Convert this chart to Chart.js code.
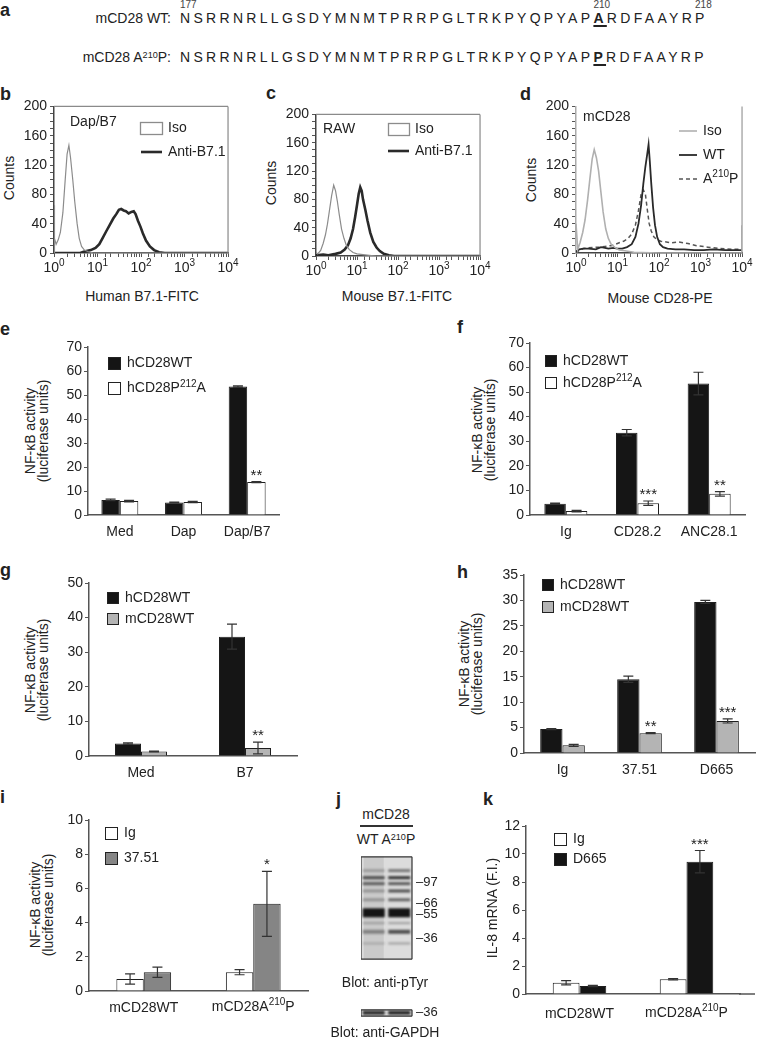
<!DOCTYPE html>
<html>
<head>
<meta charset="utf-8">
<script src="https://cdn.jsdelivr.net/npm/chart.js@4.4.1/dist/chart.umd.min.js"></script>
<style>
  body { margin: 0; background: #fff; }
  #fig { position: relative; width: 757px; height: 1037px; overflow: hidden; color: #222;
         font-family: 'Liberation Sans', 'DejaVu Sans', Arial, sans-serif; }
  canvas { position: absolute; }
  .lt { position: absolute; font-weight: bold; font-size: 18px; line-height: 18px; }
  .ct { position: absolute; transform: translate(-50%, -50%); font-size: 14px; line-height: 14px; white-space: nowrap; }
  .vt { position: absolute; transform: translate(-50%, -50%) rotate(-90deg); font-size: 14px; line-height: 13px;
        text-align: center; white-space: nowrap; }
  .lab { position: absolute; width: 171px; text-align: right; font-size: 14px; line-height: 16px; white-space: nowrap; }
  .seq { position: absolute; font-size: 14px; line-height: 16px; letter-spacing: 3.3px; white-space: nowrap; }
  .seq span { position: relative; }
  .seq .mut { font-weight: bold; text-decoration: underline; text-decoration-thickness: 2px; text-underline-offset: 2px; }
  .seq .num { position: absolute; left: 0; top: -10px; font-size: 10px; line-height: 10px; letter-spacing: 0; font-weight: normal; color: #444; }
  sup { font-size: 0.65em; line-height: 0; vertical-align: 0.45em; }
</style>
</head>
<body>
<div id="fig"></div>
<script>
// ---- panel a: sequences ----
const seqWT  = 'NSRRNRLLGSDYMNMTPRRPGLTRKPYQPYAPARDFAAYRP';
const seqMut = 'NSRRNRLLGSDYMNMTPRRPGLTRKPYQPYAPPRDFAAYRP';
const seqNums = { 0: '177', 32: '210', 40: '218' };
const mutAt = 32;

// ---- panel b: Dap/B7, human B7.1-FITC ----
const bIsoX  = [1, 1.001, 1.05, 1.12, 1.25, 1.4, 1.6, 1.8, 2.0, 2.2, 2.4, 2.7, 3.0, 3.4, 3.8, 4.3, 5, 6, 8, 10, 100, 10000];
const bIsoY  = [0, 65, 20, 12, 18, 28, 55, 98, 135, 147, 130, 100, 70, 40, 20, 9, 4, 2, 0, 0, 0, 0];
const bAntiX = [1, 4, 5, 7, 9, 11, 13, 16, 19, 23, 27, 31, 35, 40, 45, 52, 60, 68, 75, 85, 97, 110, 130, 160, 200, 260, 350, 10000];
const bAntiY = [0, 0, 2, 4, 7, 12, 20, 30, 38, 47, 53, 59, 60, 58, 57, 54, 56, 57, 53, 44, 36, 27, 17, 9, 4, 1, 0, 0];

// ---- panel c: RAW, mouse B7.1-FITC ----
const cIsoX  = [1, 1.1, 1.3, 1.5, 1.7, 1.9, 2.1, 2.4, 2.7, 3.0, 3.3, 3.7, 4.2, 4.8, 5.5, 6.5, 8, 10, 14, 20, 30, 10000];
const cIsoY  = [5, 3, 8, 18, 30, 45, 62, 85, 100, 92, 78, 58, 38, 25, 15, 9, 5, 3, 2, 1, 0, 0];
const cAntiX = [1, 1.5, 2, 3, 4, 5, 6, 7, 8, 9, 10, 11, 12, 13, 14, 16, 18, 21, 25, 30, 36, 45, 60, 80, 100, 10000];
const cAntiY = [1, 2, 1, 3, 5, 9, 15, 25, 38, 55, 72, 88, 97, 92, 80, 65, 50, 33, 20, 12, 7, 3, 1, 0, 0, 0];

// ---- panel d: mCD28, mouse CD28-PE ----
const dIsoX = [1, 1.1, 1.25, 1.45, 1.65, 1.9, 2.15, 2.45, 2.75, 3.1, 3.5, 4.0, 4.5, 5.2, 6, 7, 8.5, 11, 15, 25, 100, 1000, 9000, 9990, 10000];
const dIsoY = [40, 5, 14, 28, 45, 72, 100, 128, 141, 130, 112, 82, 56, 33, 20, 12, 8, 4, 3, 1, 0, 0, 0, 0, 38];
const dWTX  = [1, 1.2, 1.5, 2, 3, 4, 5, 6, 8, 10, 13, 17, 22, 27, 32, 37, 42, 47, 52, 56, 60, 65, 72, 80, 90, 105, 125, 160, 250, 400, 700, 1200, 2000, 4000, 10000];
const dWTY  = [2, 5, 6, 6, 5, 8, 7, 6, 7, 6, 6, 8, 12, 22, 40, 65, 95, 118, 135, 148, 125, 95, 62, 38, 22, 12, 8, 6, 5, 5, 4, 4, 5, 4, 4];
const dMutX = [1, 1.2, 1.5, 2, 3, 4, 5, 7, 9, 11, 14, 18, 22, 27, 32, 37, 42, 47, 52, 58, 65, 75, 90, 110, 150, 200, 300, 500, 800, 1500, 3000, 6000, 10000];
const dMutY = [0, 4, 6, 7, 8, 8, 9, 10, 12, 14, 16, 20, 26, 38, 58, 80, 86, 80, 60, 40, 30, 22, 18, 16, 15, 14, 15, 13, 10, 8, 6, 5, 5];

// ---- panel e ----
const eCats = ['Med', 'Dap', 'Dap/B7'];
const eWT = [6.3, 5.2, 53.5],   eWTErr = [0.3, 0.2, 0.3];
const eP212A = [5.8, 5.4, 13.7], eP212AErr = [0.3, 0.3, 0.2];
const eStars = ['', '', '**'];

// ---- panel f ----
const fCats = ['Ig', 'CD28.2', 'ANC28.1'];
const fWT = [4.6, 33.5, 53.5],  fWTErr = [0.2, 1.3, 4.6];
const fP212A = [1.6, 4.8, 8.6], fP212AErr = [0.3, 0.9, 0.9];
const fStars = ['', '***', '**'];

// ---- panel g ----
const gCats = ['Med', 'B7'];
const gHum = [3.6, 34.5], gHumErr = [0.2, 3.6];
const gMou = [1.3, 2.3],  gMouErr = [0.1, 1.7];
const gStars = ['', '**'];

// ---- panel h ----
const hCats = ['Ig', '37.51', 'D665'];
const hHum = [4.7, 14.5, 29.7], hHumErr = [0.1, 0.6, 0.3];
const hMou = [1.5, 3.9, 6.3],   hMouErr = [0.2, 0.1, 0.4];
const hStars = ['', '**', '***'];

// ---- panel i ----  (^ marks a superscript)
const iCats = ['mCD28WT', 'mCD28A^210P'];
const iIg = [0.7, 1.1],    iIgErr = [0.3, 0.15];
const i3751 = [1.1, 5.1],  i3751Err = [0.3, 1.9];
const iStars = ['', '*'];

// ---- panel j: blot bands (kDa, relative intensity) ----
const blotLanes = ['WT', 'A210P'];
const bandKDa   = [119, 105, 94.5, 83, 71, 56.4, 47, 40.3, 32.8];
const bandWT    = [0.25, 0.7, 0.6, 0.3, 0.3, 1.0, 0.25, 0.4, 0.2];
const bandMut   = [0.5, 0.85, 0.65, 0.7, 0.6, 1.0, 0.3, 0.7, 0.3];
const bandSize  = [3, 3, 3, 3, 3, 9, 2, 4, 2];
const markerKDa = [97, 66, 55, 36];
const gapdhKDa = [36], gapdhWT = [0.85], gapdhMut = [0.9], gapdhMarker = [36];

// ---- panel k ----
const kCats = ['mCD28WT', 'mCD28A^210P'];
const kIg = [0.8, 1.05],    kIgErr = [0.15, 0.05];
const kD665 = [0.57, 9.45], kD665Err = [0.05, 0.8];
const kStars = ['', '***'];

// ------------------------------------------------------------
const FONT = "'Liberation Sans', 'DejaVu Sans', Arial, sans-serif";
Chart.defaults.font.family = FONT;
Chart.defaults.font.size = 14;
Chart.defaults.color = '#222';
const fig = document.getElementById('fig');
const CLEAR = 'rgba(0,0,0,0)';

function put(html, x, y, cls) {
  const d = document.createElement('div');
  d.className = cls;
  d.innerHTML = html;
  d.style.left = x + 'px';
  d.style.top = y + 'px';
  fig.appendChild(d);
  return d;
}

function mkCanvas(box) {
  const c = document.createElement('canvas');
  c.width = box[2];
  c.height = box[3];
  c.style.left = box[0] + 'px';
  c.style.top = box[1] + 'px';
  c.style.width = box[2] + 'px';
  c.style.height = box[3] + 'px';
  fig.appendChild(c);
  return c;
}

// text with "^123" superscripts, vertically centred on y
function drawRich(ctx, str, x, y, size, align) {
  const segs = String(str).split(/\^(\d+)/);
  const big = size + 'px ' + FONT, small = Math.round(size * 0.68) + 'px ' + FONT;
  let w = 0;
  segs.forEach((s, i) => { ctx.font = i % 2 ? small : big; w += ctx.measureText(s).width; });
  let cx = align === 'center' ? x - w / 2 : (align === 'right' ? x - w : x);
  ctx.textAlign = 'left';
  ctx.textBaseline = 'middle';
  ctx.fillStyle = '#222';
  segs.forEach((s, i) => {
    ctx.font = i % 2 ? small : big;
    ctx.fillText(s, cx, i % 2 ? y - size * 0.33 : y);
    cx += ctx.measureText(s).width;
  });
}
const hasSup = c => String(c.tick && c.tick.label).includes('^');

// error bars, stars, frames, legends, rich tick labels
const extras = {
  id: 'extras',
  beforeDatasetsDraw(chart, args, o) {
    const ctx = chart.ctx, a = chart.chartArea;
    if (o.bg) {
      ctx.save();
      ctx.fillStyle = o.bg;
      ctx.fillRect(a.left, a.top, a.right - a.left, a.bottom - a.top);
      const xs = chart.scales.x;
      ctx.fillStyle = 'rgba(0,0,0,0.08)';
      xs.ticks.forEach((t, i) => {
        const x = xs.getPixelForTick(i);
        ctx.fillRect(x - 10, a.top, 20, a.bottom - a.top);
      });
      ctx.restore();
    }
    if (o.blur) {
      ctx.save();
      ctx.filter = 'blur(' + o.blur + 'px)';
    }
  },
  afterDatasetsDraw(chart, args, o) {
    const ctx = chart.ctx;
    if (o.blur) ctx.restore();
    ctx.save();
    chart.data.datasets.forEach((ds, i) => {
      if (!ds.errors) return;
      const ys = chart.scales.y;
      chart.getDatasetMeta(i).data.forEach((bar, j) => {
        const v = ds.data[j], e = ds.errors[j] || 0;
        const top = ys.getPixelForValue(v + e);
        if (e > 0) {
          const bot = ys.getPixelForValue(Math.max(0, v - e));
          ctx.strokeStyle = '#333';
          ctx.lineWidth = 1.2;
          ctx.beginPath();
          ctx.moveTo(bar.x, top); ctx.lineTo(bar.x, bot);
          ctx.moveTo(bar.x - 5, top); ctx.lineTo(bar.x + 5, top);
          ctx.moveTo(bar.x - 5, bot); ctx.lineTo(bar.x + 5, bot);
          ctx.stroke();
        }
        if (ds.stars && ds.stars[j]) {
          ctx.fillStyle = '#222';
          ctx.font = '15px ' + FONT;
          ctx.textAlign = 'center';
          ctx.textBaseline = 'alphabetic';
          ctx.fillText(ds.stars[j], bar.x, top - 2);
        }
      });
    });
    ctx.restore();
  },
  afterDraw(chart, args, o) {
    const ctx = chart.ctx, a = chart.chartArea;
    ctx.save();
    if (o.frame) {
      ctx.strokeStyle = o.frame.color;
      ctx.lineWidth = o.frame.width;
      ctx.beginPath();
      if (o.frame.sides.includes('top')) { ctx.moveTo(a.left, a.top); ctx.lineTo(a.right, a.top); }
      if (o.frame.sides.includes('right')) { ctx.moveTo(a.right, a.top); ctx.lineTo(a.right, a.bottom); }
      if (o.frame.sides.includes('left')) { ctx.moveTo(a.left, a.top); ctx.lineTo(a.left, a.bottom); }
      if (o.frame.sides.includes('bottom')) { ctx.moveTo(a.left, a.bottom); ctx.lineTo(a.right, a.bottom); }
      ctx.stroke();
    }
    if (o.extendX) {
      ctx.strokeStyle = '#555';
      ctx.lineWidth = 1.5;
      ctx.beginPath();
      ctx.moveTo(a.right - 1, a.bottom);
      ctx.lineTo(a.right + o.extendX, a.bottom);
      ctx.stroke();
    }
    if (o.richX) {
      const xs = chart.scales.x;
      xs.ticks.forEach((t, i) => {
        if (typeof t.label === 'string' && t.label.includes('^')) {
          drawRich(ctx, t.label, xs.getPixelForTick(i), a.bottom + o.richX, 14, 'center');
        }
      });
    }
    (o.items || []).forEach(it => {
      ctx.setLineDash([]);
      if (it.type === 'sq') {
        ctx.fillStyle = it.fill;
        ctx.fillRect(it.x, it.y, it.w, it.h);
        ctx.strokeStyle = '#222';
        ctx.lineWidth = 1;
        ctx.strokeRect(it.x + 0.5, it.y + 0.5, it.w - 1, it.h - 1);
      } else if (it.type === 'rect') {
        ctx.strokeStyle = it.color;
        ctx.lineWidth = 1.3;
        ctx.strokeRect(it.x + 0.5, it.y + 0.5, it.w, it.h);
      } else if (it.type === 'line') {
        ctx.strokeStyle = it.color;
        ctx.lineWidth = it.lw;
        ctx.setLineDash(it.dash || []);
        ctx.beginPath();
        ctx.moveTo(it.x, it.y);
        ctx.lineTo(it.x + it.w, it.y);
        ctx.stroke();
      } else if (it.type === 'text') {
        drawRich(ctx, it.label, it.x, it.y, 14, 'left');
      }
    });
    ctx.restore();
  }
};
Chart.register(extras);

// bar chart panel: box = canvas [l,t,w,h], area = plot [l,t,r,b] (page px)
function barPanel(p) {
  const [bl, bt, bw, bh] = p.box;
  const [al, at, ar, ab] = p.area;
  const c = mkCanvas(p.box);
  const xpad = p.xpad || 9;
  const items = [];
  p.sets.forEach((s, i) => {
    const y = p.leg[1] + i * p.leg[3] - bt;
    items.push({ type: 'sq', x: p.leg[0] - bl, y: y, w: p.leg[2], h: p.leg[2], fill: s.fill });
    items.push({ type: 'text', x: p.leg[0] - bl + p.leg[2] + 6, y: y + p.leg[2] / 2, label: s.label });
  });
  new Chart(c, {
    type: 'bar',
    data: {
      labels: p.cats,
      datasets: p.sets.map(s => ({
        label: s.label, data: s.data, errors: s.err, stars: s.stars,
        backgroundColor: s.fill, borderColor: '#1e1e1e', borderWidth: 1,
        categoryPercentage: p.pct, barPercentage: 1
      }))
    },
    options: {
      responsive: false, animation: false, devicePixelRatio: 1,
      layout: { autoPadding: false, padding: { top: at - bt, right: bl + bw - ar, left: 0, bottom: 0 } },
      plugins: { legend: { display: false }, tooltip: { enabled: false },
                 extras: { items: items, extendX: p.extendX, richX: xpad + 7 } },
      scales: {
        x: {
          afterFit(s) { s.height = bt + bh - ab; },
          grid: { display: true, drawOnChartArea: false, drawTicks: false },
          border: { color: '#555', width: 1.5 },
          ticks: { padding: xpad, maxRotation: 0, autoSkip: false, font: { size: 14 },
                   color: c => (hasSup(c) ? CLEAR : '#222') }
        },
        y: {
          min: 0, max: p.ymax,
          afterFit(s) { s.width = al - bl; },
          ticks: { stepSize: p.step, padding: 2, font: { size: 14 } },
          grid: { drawOnChartArea: false, tickLength: 4, color: '#555' },
          border: { color: '#555', width: 1.5 }
        }
      }
    }
  });
}

// flow histogram panel with log x-axis
const powLabels = { 1: '10^0', 10: '10^1', 100: '10^2', 1000: '10^3', 10000: '10^4' };
function histPanel(p) {
  const [bl, bt, bw, bh] = p.box;
  const [al, at, ar, ab] = p.area;
  const c = mkCanvas(p.box);
  const items = [];
  p.sets.forEach(s => {
    const L = s.leg;
    if (s.legType === 'rect') items.push({ type: 'rect', x: L[0] - bl, y: L[1] - bt - 6, w: L[2], h: 12, color: s.color });
    else items.push({ type: 'line', x: L[0] - bl, y: L[1] - bt, w: L[2], color: s.color, lw: s.width, dash: s.dash });
    items.push({ type: 'text', x: L[0] - bl + L[2] + 6, y: L[1] - bt, label: s.label });
  });
  items.push({ type: 'text', x: p.note[1] - bl, y: p.note[2] - bt, label: p.note[0] });
  new Chart(c, {
    type: 'line',
    data: {
      datasets: p.sets.map(s => ({
        label: s.label, data: s.x.map((v, i) => ({ x: v, y: s.y[i] })),
        borderColor: s.color, borderWidth: s.width, borderDash: s.dash || [],
        pointRadius: 0, fill: false, tension: 0
      }))
    },
    options: {
      responsive: false, animation: false, devicePixelRatio: 1,
      layout: { autoPadding: false, padding: { top: at - bt, right: bl + bw - ar, left: 0, bottom: 0 } },
      plugins: { legend: { display: false }, tooltip: { enabled: false },
                 extras: { items: items, frame: p.frame, richX: 15 } },
      scales: {
        x: {
          type: 'logarithmic', min: 1, max: 10000,
          afterFit(s) { s.height = bt + bh - ab; },
          grid: { drawOnChartArea: false, tickLength: 4, color: '#555' },
          border: { color: '#444', width: 1.5 },
          ticks: { autoSkip: false, maxRotation: 0, padding: 3, font: { size: 14 }, color: CLEAR,
                   callback: v => powLabels[v] || '' }
        },
        y: {
          min: 0, max: 200,
          afterFit(s) { s.width = al - bl; },
          grid: { drawOnChartArea: false, tickLength: 4, color: '#555' },
          border: p.yBorder || { color: '#444', width: 1.5 },
          ticks: { stepSize: 10, autoSkip: false, padding: 3, font: { size: 14 },
                   callback: v => (v % 40 === 0 ? v : '') }
        }
      }
    }
  });
}

// western blot strip drawn on lane (category) x log-kDa y axis
function blotPanel(p) {
  const [bl, bt, bw, bh] = p.box;
  const [al, at, ar, ab] = p.area;
  const c = mkCanvas(p.box);
  new Chart(c, {
    type: 'line',
    data: {
      labels: blotLanes,
      datasets: p.lanes.map((inten, k) => ({
        data: p.kda.map(v => ({ x: blotLanes[k], y: v })),
        showLine: false, pointStyle: 'line', pointRadius: 11,
        pointBorderWidth: p.size,
        pointBorderColor: inten.map(v => 'rgba(20,20,20,' + v + ')')
      }))
    },
    options: {
      responsive: false, animation: false, devicePixelRatio: 1,
      layout: { autoPadding: false, padding: { top: at - bt, bottom: bt + bh - ab, left: al - bl, right: 0 } },
      plugins: { legend: { display: false }, tooltip: { enabled: false },
                 extras: { bg: '#dcdcdc', blur: 0.8, frame: { color: '#333', width: 1.2, sides: ['top', 'right', 'left', 'bottom'] } } },
      scales: {
        x: { type: 'category', offset: true, display: false },
        y: {
          type: 'logarithmic', position: 'right', min: p.ymin, max: p.ymax,
          afterFit(s) { s.width = bl + bw - ar; },
          afterBuildTicks(s) { s.ticks = p.markers.map(v => ({ value: v })); },
          grid: { display: true, drawOnChartArea: false, drawTicks: false }, border: { display: false },
          ticks: { autoSkip: false, padding: 4, font: { size: 13 }, callback: v => '–' + v }
        }
      }
    }
  });
}

// ---- panel letters ----
[['a', 0, 1], ['b', 0, 85], ['c', 266, 84], ['d', 520, 85], ['e', 0, 320], ['f', 457, 318],
 ['g', 0, 561], ['h', 457, 563], ['i', 0, 788], ['j', 336, 790], ['k', 483, 790]]
  .forEach(l => put(l[0], l[1], l[2], 'lt'));

// ---- panel a ----
function seqRow(seq, top, nums) {
  const row = put('', 180, top, 'seq');
  [...seq].forEach((ch, i) => {
    const s = document.createElement('span');
    s.textContent = ch;
    if (i === mutAt) s.className = 'mut';
    if (nums && nums[i]) {
      const n = document.createElement('span');
      n.className = 'num';
      n.textContent = nums[i];
      s.appendChild(n);
    }
    row.appendChild(s);
  });
}
put('mCD28 WT:', 0, 10, 'lab');
put('mCD28 A<sup>210</sup>P:', 0, 49, 'lab');
seqRow(seqWT, 10, seqNums);
seqRow(seqMut, 49, null);

// ---- panels b, c, d ----
histPanel({
  box: [20, 95, 226, 190], area: [54, 105, 231, 253],
  frame: { color: '#8a8a8a', width: 1.2, sides: ['top', 'right'] },
  note: ['Dap/B7', 70, 122],
  sets: [
    { label: 'Iso', x: bIsoX, y: bIsoY, color: '#8c8c8c', width: 1.2, legType: 'rect', leg: [140, 128, 22] },
    { label: 'Anti-B7.1', x: bAntiX, y: bAntiY, color: '#2a2a2a', width: 2.6, legType: 'line', leg: [141, 152, 21] }
  ]
});
histPanel({
  box: [282, 103, 216, 182], area: [316, 113, 482, 256],
  frame: { color: '#8a8a8a', width: 1.2, sides: ['top', 'right'] },
  note: ['RAW', 323, 129],
  sets: [
    { label: 'Iso', x: cIsoX, y: cIsoY, color: '#8c8c8c', width: 1.2, legType: 'rect', leg: [388, 129, 21] },
    { label: 'Anti-B7.1', x: cAntiX, y: cAntiY, color: '#2a2a2a', width: 2.6, legType: 'line', leg: [388, 151, 21] }
  ]
});
histPanel({
  box: [542, 95, 218, 190], area: [576, 105, 747, 253],
  frame: { color: '#999', width: 1.2, sides: ['right'] },
  yBorder: { color: '#aaa', width: 1.5, dash: [2, 2] },
  note: ['mCD28', 583, 117],
  sets: [
    { label: 'Iso', x: dIsoX, y: dIsoY, color: '#b0b0b0', width: 1.6, legType: 'line', leg: [679, 131, 18] },
    { label: 'WT', x: dWTX, y: dWTY, color: '#2a2a2a', width: 1.8, legType: 'line', leg: [679, 155, 18] },
    { label: 'A^210P', x: dMutX, y: dMutY, color: '#555', width: 1.5, dash: [4, 3], legType: 'line', leg: [679, 179, 18] }
  ]
});
put('Counts', 9, 178, 'vt');
put('Counts', 271, 183, 'vt');
put('Counts', 531, 180, 'vt');
put('Human B7.1-FITC', 142, 296, 'ct');
put('Mouse B7.1-FITC', 397, 296, 'ct');
put('Mouse CD28-PE', 660, 298, 'ct');

// ---- bar panels ----
const NF = 'NF-κB activity<br>(luciferase units)';
barPanel({
  box: [60, 335, 230, 215], area: [88, 347, 279, 515], cats: eCats, ymax: 70, step: 10, pct: 0.58,
  leg: [108, 357, 13, 25],
  sets: [
    { label: 'hCD28WT', data: eWT, err: eWTErr, fill: '#151515' },
    { label: 'hCD28P^212A', data: eP212A, err: eP212AErr, stars: eStars, fill: '#ffffff' }
  ]
});
put(NF, 37, 431, 'vt');

barPanel({
  box: [502, 332, 252, 218], area: [530, 343, 745, 515], cats: fCats, ymax: 70, step: 10, pct: 0.6,
  leg: [545, 355, 12, 22],
  sets: [
    { label: 'hCD28WT', data: fWT, err: fWTErr, fill: '#151515' },
    { label: 'hCD28P^212A', data: fP212A, err: fP212AErr, stars: fStars, fill: '#ffffff' }
  ]
});
put(NF, 484, 430, 'vt');

barPanel({
  box: [60, 572, 245, 212], area: [89, 583, 297, 756], cats: gCats, ymax: 50, step: 10, pct: 0.5,
  leg: [107, 592, 12, 21],
  sets: [
    { label: 'hCD28WT', data: gHum, err: gHumErr, fill: '#151515' },
    { label: 'mCD28WT', data: gMou, err: gMouErr, stars: gStars, fill: '#b4b4b4' }
  ]
});
put(NF, 37, 670, 'vt');

barPanel({
  box: [495, 564, 262, 220], area: [524, 575, 755, 753], cats: hCats, ymax: 35, step: 5, pct: 0.58,
  leg: [542, 579, 12, 22],
  sets: [
    { label: 'hCD28WT', data: hHum, err: hHumErr, fill: '#151515' },
    { label: 'mCD28WT', data: hMou, err: hMouErr, stars: hStars, fill: '#b4b4b4' }
  ]
});
put(NF, 471, 664, 'vt');

barPanel({
  box: [60, 809, 255, 220], area: [89, 820, 308, 991], cats: iCats, ymax: 10, step: 2, pct: 0.5,
  leg: [105, 827, 13, 25],
  sets: [
    { label: 'Ig', data: iIg, err: iIgErr, fill: '#ffffff' },
    { label: '37.51', data: i3751, err: i3751Err, stars: iStars, fill: '#858585' }
  ]
});
put(NF, 42, 905, 'vt');

barPanel({
  box: [497, 815, 260, 215], area: [526, 826, 740, 994], cats: kCats, ymax: 12, step: 2, pct: 0.5,
  leg: [554, 833, 13, 20], extendX: 15, xpad: 12,
  sets: [
    { label: 'Ig', data: kIg, err: kIgErr, fill: '#ffffff' },
    { label: 'D665', data: kD665, err: kD665Err, stars: kStars, fill: '#151515' }
  ]
});
put('IL-8 mRNA (F.I.)', 492, 908, 'vt');

// ---- panel j ----
put('mCD28', 386, 814, 'ct');
const ul = put('', 360, 825, 'lt');
ul.style.width = '53px'; ul.style.height = '1.5px'; ul.style.background = '#333';
put('WT A<sup>210</sup>P', 386, 839, 'ct');
blotPanel({
  box: [361, 845, 100, 126], area: [361, 851, 412, 968], ymin: 24.8, ymax: 152,
  kda: bandKDa, lanes: [bandWT, bandMut], size: bandSize, markers: markerKDa
});
put('Blot: anti-pTyr', 385, 982, 'ct');
blotPanel({
  box: [361, 998, 100, 30], area: [361, 1002, 412, 1025], ymin: 30, ymax: 42,
  kda: gapdhKDa, lanes: [gapdhWT, gapdhMut], size: [4], markers: gapdhMarker
});
put('Blot: anti-GAPDH', 385, 1032, 'ct');
</script>
</body>
</html>
